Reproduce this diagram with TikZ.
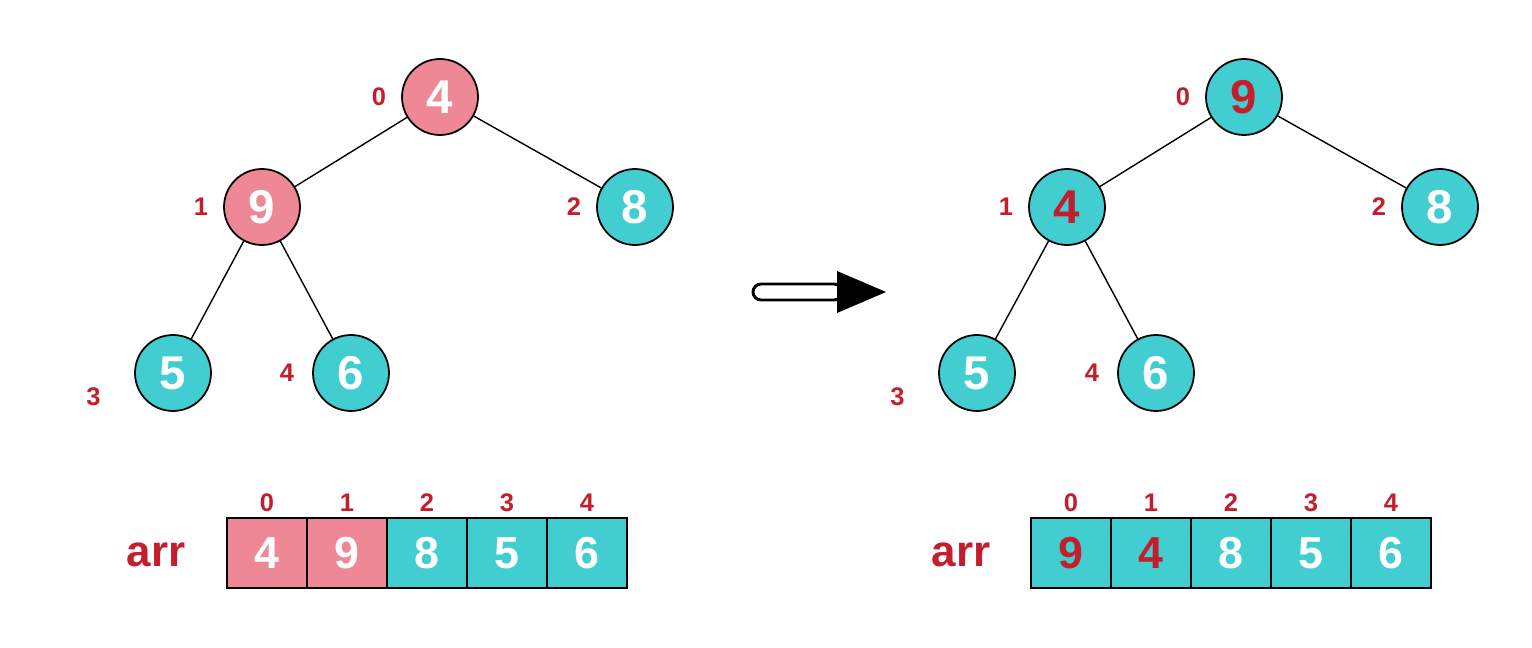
\documentclass[tikz,border=0pt]{standalone}
\usepackage{fontspec}
\setmainfont{Liberation Sans}
\usetikzlibrary{positioning}

\definecolor{heappink}{RGB}{239,136,150}
\definecolor{heapteal}{RGB}{66,205,209}
\definecolor{idxred}{RGB}{196,30,45}

\begin{document}
\begin{tikzpicture}[
    x=0.02cm, y=-0.02cm,
    heapnode/.style={circle, draw, line width=1pt, minimum size=1.52cm, inner sep=0pt, fill=heapteal, text=white, font=\fontsize{27}{30}\selectfont\bfseries},
    hotnode/.style={heapnode, fill=heappink},
    swapnode/.style={heapnode, text=idxred},
    idx/.style={text=idxred, font=\fontsize{14.5}{16}\selectfont\bfseries},
    cell/.style={draw, line width=0.8pt, minimum width=1.6cm, minimum height=1.4cm, inner sep=0pt, outer sep=0pt, fill=heapteal, text=white, font=\fontsize{25.5}{28}\selectfont\bfseries},
    hotcell/.style={cell, fill=heappink},
    swapcell/.style={cell, text=idxred},
    arrname/.style={text=idxred, font=\fontsize{25}{28}\selectfont\bfseries},
    edge/.style={line width=0.8pt}
]
    \useasboundingbox (0,0) rectangle (1532,648);

    % before: tree
    \node[hotnode] (l0) at (440,97) {4};
    \node[hotnode] (l1) at (262,207) {9};
    \node[heapnode] (l2) at (635,207) {8};
    \node[heapnode] (l3) at (173,373) {5};
    \node[heapnode] (l4) at (351,373) {6};

    \node[idx, left=0.18cm of l0] {0};
    \node[idx, left=0.18cm of l1] {1};
    \node[idx, left=0.18cm of l2] {2};
    \node[idx, left=0.55cm of l3, yshift=-0.48cm] {3};
    \node[idx, left=0.24cm of l4] {4};

    \draw[edge] (l0) -- (l1);
    \draw[edge] (l0) -- (l2);
    \draw[edge] (l1) -- (l3);
    \draw[edge] (l1) -- (l4);

    % before: array
    \node[arrname] (larr) at (156,555) {arr};
    \node[hotcell] (la0) at (267,553) {4};
    \node[hotcell, right=0pt of la0] (la1) {9};
    \node[cell, right=0pt of la1] (la2) {8};
    \node[cell, right=0pt of la2] (la3) {5};
    \node[cell, right=0pt of la3] (la4) {6};

    \node[idx, above=0pt of la0] {0};
    \node[idx, above=0pt of la1] {1};
    \node[idx, above=0pt of la2] {2};
    \node[idx, above=0pt of la3] {3};
    \node[idx, above=0pt of la4] {4};

    % hollow arrow
    \draw[line width=1.7pt, fill=white, rounded corners=0.16cm] (753,284) rectangle (842,300);
    \fill (837,271) -- (886,292) -- (837,313) -- cycle;

    % after: tree
    \node[swapnode] (r0) at (1244,97) {9};
    \node[swapnode] (r1) at (1067,207) {4};
    \node[heapnode] (r2) at (1440,207) {8};
    \node[heapnode] (r3) at (977,373) {5};
    \node[heapnode] (r4) at (1156,373) {6};

    \node[idx, left=0.18cm of r0] {0};
    \node[idx, left=0.18cm of r1] {1};
    \node[idx, left=0.18cm of r2] {2};
    \node[idx, left=0.55cm of r3, yshift=-0.48cm] {3};
    \node[idx, left=0.24cm of r4] {4};

    \draw[edge] (r0) -- (r1);
    \draw[edge] (r0) -- (r2);
    \draw[edge] (r1) -- (r3);
    \draw[edge] (r1) -- (r4);

    % after: array
    \node[arrname] (rarr) at (961,555) {arr};
    \node[swapcell] (ra0) at (1071,553) {9};
    \node[swapcell, right=0pt of ra0] (ra1) {4};
    \node[cell, right=0pt of ra1] (ra2) {8};
    \node[cell, right=0pt of ra2] (ra3) {5};
    \node[cell, right=0pt of ra3] (ra4) {6};

    \node[idx, above=0pt of ra0] {0};
    \node[idx, above=0pt of ra1] {1};
    \node[idx, above=0pt of ra2] {2};
    \node[idx, above=0pt of ra3] {3};
    \node[idx, above=0pt of ra4] {4};
\end{tikzpicture}
\end{document}
